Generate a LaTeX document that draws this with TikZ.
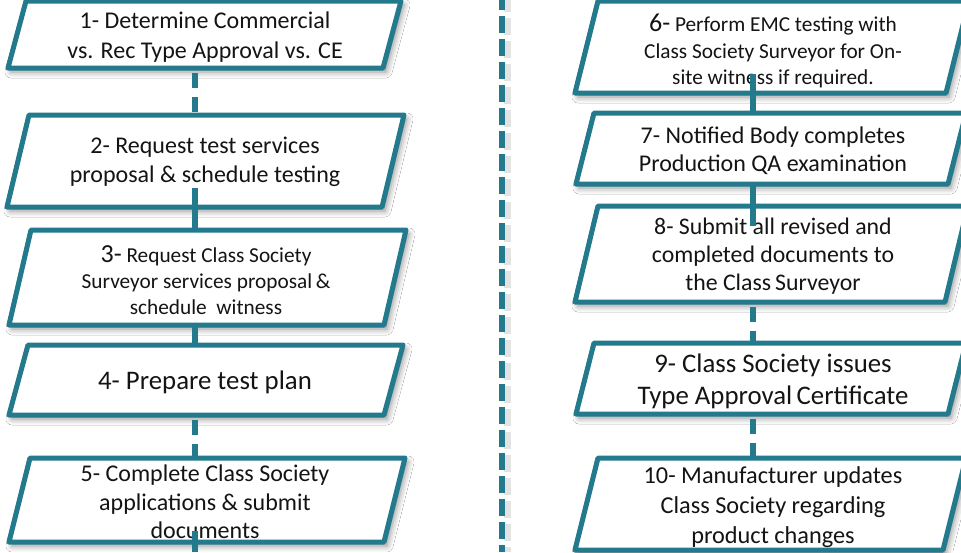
\documentclass[tikz,border=0pt]{standalone}
\usepackage{fontspec}
\setmainfont{Carlito}
\usetikzlibrary{shadows.blur}
\definecolor{tealc}{RGB}{35,122,140}
\definecolor{txt}{RGB}{20,20,20}
\tikzset{
  pbox/.style={draw=tealc, line width=5pt, fill=white, line join=round,
    blur shadow={shadow xshift=3pt, shadow yshift=-4pt, shadow blur radius=6pt, shadow opacity=45}},
  ptext/.style={align=center, inner sep=0pt, text=txt},
  conn/.style={draw=tealc, line width=6pt},
  dconn/.style={conn, dash pattern=on 15pt off 9pt, dash phase=19pt},
  divider/.style={draw=tealc, line width=6pt, dash pattern=on 17pt off 6pt, dash phase=7pt},
}
\begin{document}
\begin{tikzpicture}[x=1pt,y=-1pt]
\useasboundingbox (0,0) rectangle (961,552);
\fill[white] (0,0) rectangle (961,552);
% divider shadow and divider
\draw[line width=7pt, black!18, opacity=0.6, dash pattern=on 17pt off 6pt, dash phase=5pt] (507,0) -- (507,552);
\draw[divider] (502,0) -- (502,552);
% left boxes
\draw[pbox] (8,68) -- (383,68) -- (401,1) -- (26,1) -- cycle;
\draw[pbox] (7,207) -- (382,207) -- (404,115) -- (29,115) -- cycle;
\draw[pbox] (9,325) -- (384,325) -- (406,230) -- (31,230) -- cycle;
\draw[pbox] (9,415) -- (384,415) -- (403,345) -- (28,345) -- cycle;
\draw[pbox] (9,542) -- (384,542) -- (405,458) -- (30,458) -- cycle;
% right boxes
\draw[pbox] (575,93) -- (946,93) -- (969,1) -- (598,1) -- cycle;
\draw[pbox] (576,184) -- (948,184) -- (966,113) -- (594,113) -- cycle;
\draw[pbox] (575,302) -- (945,302) -- (968,206) -- (598,206) -- cycle;
\draw[pbox] (576,414) -- (948,414) -- (966,343) -- (594,343) -- cycle;
\draw[pbox] (575,550) -- (943,550) -- (966,458) -- (598,458) -- cycle;
% texts
\node[ptext, font=\fontsize{24}{30}\selectfont] (t1) at (205,37) {1- Determine Commercial\\vs. Rec Type Approval vs. CE};
\node[ptext, font=\fontsize{24}{29}\selectfont] (t2) at (205,162) {2- Request test services\\proposal \& schedule testing};
\node[ptext, font=\fontsize{21.3}{26}\selectfont] (t3) at (206,280) {{\fontsize{26}{26}\selectfont 3-} Request Class Society\\Surveyor services proposal\,\&\\schedule~~witness};
\node[ptext, font=\fontsize{26.8}{30}\selectfont] (t4) at (205,382) {4- Prepare test plan};
\node[ptext, font=\fontsize{24}{28.5}\selectfont] (t5) at (205,502) {5- Complete Class Society\\applications \& submit\\documents};
\node[ptext, font=\fontsize{21.3}{26.5}\selectfont] (t6) at (773,51) {{\fontsize{26}{26}\selectfont 6-} Perform EMC testing with\\Class Society Surveyor for On-\\site witness if required.};
\node[ptext, font=\fontsize{24}{28.5}\selectfont] (t7) at (773,151) {7- Notified Body completes\\Production QA examination};
\node[ptext, font=\fontsize{23.8}{28}\selectfont] (t8) at (773,256) {8- Submit all revised and\\completed documents to\\the Class\,Surveyor};
\node[ptext, font=\fontsize{26.8}{32}\selectfont] (t9) at (773,381) {9- Class Society issues\\Type Approval\,Certificate};
\node[ptext, font=\fontsize{24.3}{30}\selectfont] (t10) at (773,507) {10- Manufacturer updates\\Class Society regarding\\product changes};
% connector end points
\coordinate (c1s) at (195,68);  \coordinate (c2n) at (195,115);
\coordinate (c2i) at (195,188); \coordinate (c3n) at (195,230);
\coordinate (c3s) at (195,325); \coordinate (c4n) at (195,345);
\coordinate (c4s) at (195,415); \coordinate (c5n) at (195,458);
\coordinate (c5i) at (195,531); \coordinate (c5x) at (195,552);
\coordinate (c6i) at (753,74);  \coordinate (c7n) at (753,113);
\coordinate (c7s) at (753,184); \coordinate (c8i) at (753,226);
\coordinate (c8s) at (753,302); \coordinate (c9n) at (753,343);
\coordinate (c9s) at (753,414); \coordinate (c10n) at (753,458);
% connectors
\draw[dconn] (c1s) -- (c2n);
\draw[conn] (c2i) -- (c3n);
\draw[conn] (c3s) -- (c4n);
\draw[dconn] (c4s) -- (c5n);
\draw[conn] (c5i) -- (c5x);
\draw[conn] (c6i) -- (c7n);
\draw[conn] (c7s) -- (c8i);
\draw[dconn] (c8s) -- (c9n);
\draw[dconn] (c9s) -- (c10n);
\end{tikzpicture}
\end{document}
